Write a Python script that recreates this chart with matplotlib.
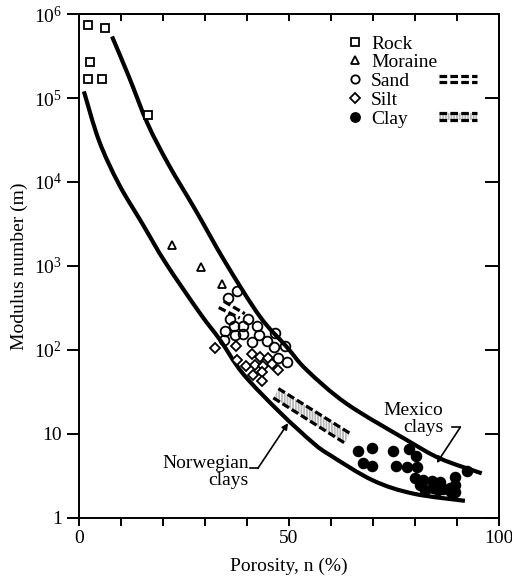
import matplotlib
matplotlib.use("Agg")
import numpy as np
import matplotlib.pyplot as plt
from matplotlib.lines import Line2D
from matplotlib.patches import Polygon, PathPatch
from matplotlib.path import Path
from matplotlib.ticker import FixedLocator, FixedFormatter, NullFormatter

plt.rcParams['font.family'] = ['Liberation Serif', 'DejaVu Serif']
plt.rcParams['mathtext.fontset'] = 'custom'
plt.rcParams['mathtext.rm'] = 'Liberation Serif'
plt.rcParams['mathtext.it'] = 'Liberation Serif:italic'
plt.rcParams['hatch.linewidth'] = 1.3

# porosity n (%) and modulus number m for each soil group
rock_n = [2.2, 6.3, 2.6, 2.2, 5.5, 16.4]
rock_m = [7.4e5, 6.8e5, 2.7e5, 1.67e5, 1.67e5, 6.3e4]

moraine_n = [22.2, 29.0, 34.0]
moraine_m = [1800, 960, 610]

sand_n = [37.6, 35.6, 35.9, 40.3, 34.8, 37.0, 39.0, 42.3, 37.1, 39.1,
          34.5, 41.2, 42.9, 44.7, 46.7, 46.5, 49.0, 47.4, 49.5]
sand_m = [510, 417, 234, 234, 170, 195, 195, 195, 151, 155,
          132, 126, 151, 129, 158, 110, 112, 81, 72]

silt_n = [32.4, 37.4, 37.7, 41.1, 43.1, 45.1, 39.9, 41.9, 43.8, 46.0,
          47.5, 41.5, 43.5, 43.7]
silt_m = [107, 112, 77, 89, 82, 81, 65, 66, 64, 68,
          57, 51, 54, 43]

clay_n = [66.5, 69.7, 67.7, 69.9, 74.8, 78.6, 80.2, 75.6, 78.2, 80.4,
          80.0, 81.2, 82.0, 84.0, 86.0, 82.4, 84.4, 85.5, 86.7, 88.3,
          89.5, 88.7, 89.5, 89.5, 92.3]
clay_m = [6.2, 6.9, 4.5, 4.2, 6.2, 6.6, 5.5, 4.2, 4.1, 4.0,
          3.0, 2.5, 2.8, 2.75, 2.7, 2.15, 2.25, 2.15, 2.2, 2.25,
          2.5, 2.05, 2.05, 3.1, 3.6]

# envelope curves
upper_n = [7.9, 11.9, 16.4, 21.4, 27.8, 34.9, 43.1, 49.4, 54.2, 63.7, 78.0, 86.0, 95.9]
upper_m = [5.4e5, 1.8e5, 4.9e4, 1.6e4, 4.6e3, 1.1e3, 250, 110, 58, 23, 8.5, 5.1, 3.4]
lower_n = [1.2, 4.8, 9.5, 15.1, 20.6, 28.8, 33.6, 39.1, 47.9, 55.8, 59.8, 70.0, 79.6, 91.9]
lower_m = [1.2e5, 3.1e4, 9.5e3, 3.2e3, 1.1e3, 275, 132, 52, 18, 7.8, 5.6, 2.8, 1.95, 1.6]

# ranges for sand and Norwegian clays (two edges each)
sand_band_n = [[34.5, 39.5], [33.3, 38.3]]
sand_band_m = [[380, 270], [320, 240]]
clay_band_n = [[47.5, 64.5], [46.3, 63.3]]
clay_band_m = [[34.7, 10.2], [26.9, 7.8]]

yticks = [1, 10, 100, 1e3, 1e4, 1e5, 1e6]
ytick_labels = ['1', '10', r'$10^2$', r'$10^3$', r'$10^4$', r'$10^5$', r'$10^6$']
xticks = list(range(0, 101, 10))
xtick_labels = ['0', '', '', '', '', '50', '', '', '', '', '100']

FS = 14


def smooth_curve(xs, ms):
    # cubic Bezier through the points (Catmull-Rom), built in (n, log m)
    p = np.column_stack([xs, np.log10(ms)])
    verts = [p[0]]
    codes = [Path.MOVETO]
    for i in range(len(p) - 1):
        p0 = p[max(i - 1, 0)]
        p3 = p[min(i + 2, len(p) - 1)]
        c1 = p[i] + (p[i + 1] - p0) / 6
        c2 = p[i + 1] - (p3 - p[i]) / 6
        verts += [c1, c2, p[i + 1]]
        codes += [Path.CURVE4] * 3
    verts = np.array(verts)
    verts[:, 1] = 10 ** verts[:, 1]
    return Path(verts, codes)


fig = plt.figure(figsize=(5.12, 5.79), dpi=100)
ax = fig.add_axes([0.154, 0.1054, 0.8205, 0.8704])
ax.set_yscale('log')
ax.set_xlim(0, 100)
ax.set_ylim(1, 1e6)

for cn, cm in [(upper_n, upper_m), (lower_n, lower_m)]:
    ax.add_patch(PathPatch(smooth_curve(cn, cm), fill=False, edgecolor='black',
                           lw=3.0, capstyle='butt', joinstyle='round'))

dash_kw = dict(color='black', lw=2.3, dashes=(2.4, 1.0), solid_capstyle='butt')
for bn, bm in zip(sand_band_n, sand_band_m):
    ax.plot(bn, bm, **dash_kw)

verts = list(zip(clay_band_n[0], clay_band_m[0])) + list(zip(clay_band_n[1][::-1], clay_band_m[1][::-1]))
ax.add_patch(Polygon(verts, closed=True, fill=False, edgecolor='#b8b8b8', lw=0, hatch='||||||'))
for bn, bm in zip(clay_band_n, clay_band_m):
    ax.plot(bn, bm, **dash_kw)

mk = dict(linestyle='none', color='black', markeredgewidth=1.3)
ax.plot(rock_n, rock_m, marker='s', markersize=5.8, markerfacecolor='white', **mk)
ax.plot(moraine_n, moraine_m, marker='^', markersize=6, markerfacecolor='white', **mk)
ax.plot(sand_n, sand_m, marker='o', markersize=7, markerfacecolor='none', **mk)
ax.plot(silt_n, silt_m, marker='D', markersize=5.2, markerfacecolor='white', **mk)
ax.plot(clay_n, clay_m, marker='o', markersize=7, markerfacecolor='black', **mk)

# legend
handles = [
    Line2D([], [], marker='s', markersize=5.5, markerfacecolor='white', **mk),
    Line2D([], [], marker='^', markersize=6, markerfacecolor='white', **mk),
    Line2D([], [], marker='o', markersize=6, markerfacecolor='white', **mk),
    Line2D([], [], marker='D', markersize=5, markerfacecolor='white', **mk),
    Line2D([], [], marker='o', markersize=6.5, markerfacecolor='black', **mk),
]
ax.legend(handles, ['Rock', 'Moraine', 'Sand', 'Silt', 'Clay'], loc='upper left',
          bbox_to_anchor=(0.615, 0.974), frameon=False, fontsize=FS,
          handlelength=1.0, handletextpad=0.35, labelspacing=0.06, borderaxespad=0)

# pattern swatches next to Sand and Clay
sw_x = [0.857, 0.948]
for y0 in (0.877, 0.865):
    ax.plot(sw_x, [y0, y0], transform=ax.transAxes, **dash_kw)
ax.add_patch(Polygon([(sw_x[0], 0.804), (sw_x[1], 0.804), (sw_x[1], 0.789), (sw_x[0], 0.789)],
                     closed=True, fill=False, edgecolor='#b8b8b8', lw=0, hatch='||||||',
                     transform=ax.transAxes))
for y0 in (0.804, 0.789):
    ax.plot(sw_x, [y0, y0], transform=ax.transAxes, **dash_kw)

# annotations
ax.text(86.7, 10 ** 1.18, 'Mexico\nclays', ha='right', va='center', fontsize=FS, linespacing=1.05)
ax.plot([88.8, 90.8], [10 ** 1.08, 10 ** 1.08], color='black', lw=1.2)
ax.annotate('', xy=(85.2, 4.5), xytext=(90.8, 10 ** 1.08),
            arrowprops=dict(arrowstyle='-|>', color='black', lw=1.2, mutation_scale=9,
                            shrinkA=0, shrinkB=0))

ax.text(40.5, 10 ** 0.55, 'Norwegian\nclays', ha='right', va='center', fontsize=FS, linespacing=1.0)
ax.plot([40.7, 42.6], [10 ** 0.59, 10 ** 0.59], color='black', lw=1.2)
ax.annotate('', xy=(49.8, 10 ** 1.13), xytext=(42.6, 10 ** 0.59),
            arrowprops=dict(arrowstyle='-|>', color='black', lw=1.2, mutation_scale=9,
                            shrinkA=0, shrinkB=0))

# axes and ticks: outward on bottom/left, inward on top/right
for s in ax.spines.values():
    s.set_linewidth(1.4)
ax.xaxis.set_major_locator(FixedLocator(xticks))
ax.xaxis.set_major_formatter(FixedFormatter(xtick_labels))
ax.yaxis.set_major_locator(FixedLocator(yticks))
ax.yaxis.set_major_formatter(FixedFormatter(ytick_labels))
ax.yaxis.set_minor_locator(FixedLocator([]))
ax.tick_params(axis='both', which='major', labelsize=FS, width=1.4, color='black')
ax.tick_params(axis='x', which='major', direction='out', length=6, pad=3)
ax.tick_params(axis='y', which='major', direction='out', length=9, pad=3)

top = ax.secondary_xaxis('top')
top.xaxis.set_major_locator(FixedLocator(xticks))
top.xaxis.set_major_formatter(NullFormatter())
top.tick_params(direction='in', length=5, width=1.4)
right = ax.secondary_yaxis('right')
right.yaxis.set_major_locator(FixedLocator(yticks))
right.yaxis.set_minor_locator(FixedLocator([]))
right.yaxis.set_major_formatter(NullFormatter())
right.yaxis.set_minor_formatter(NullFormatter())
right.tick_params(which='both', direction='in', length=10, width=1.4)
for sec in (top, right):
    for s in sec.spines.values():
        s.set_linewidth(1.4)

ax.set_xlabel('Porosity, n (%)', fontsize=FS, labelpad=7)
ax.set_ylabel('Modulus number (m)', fontsize=FS, labelpad=4)

fig.savefig('out.png', dpi=100)
